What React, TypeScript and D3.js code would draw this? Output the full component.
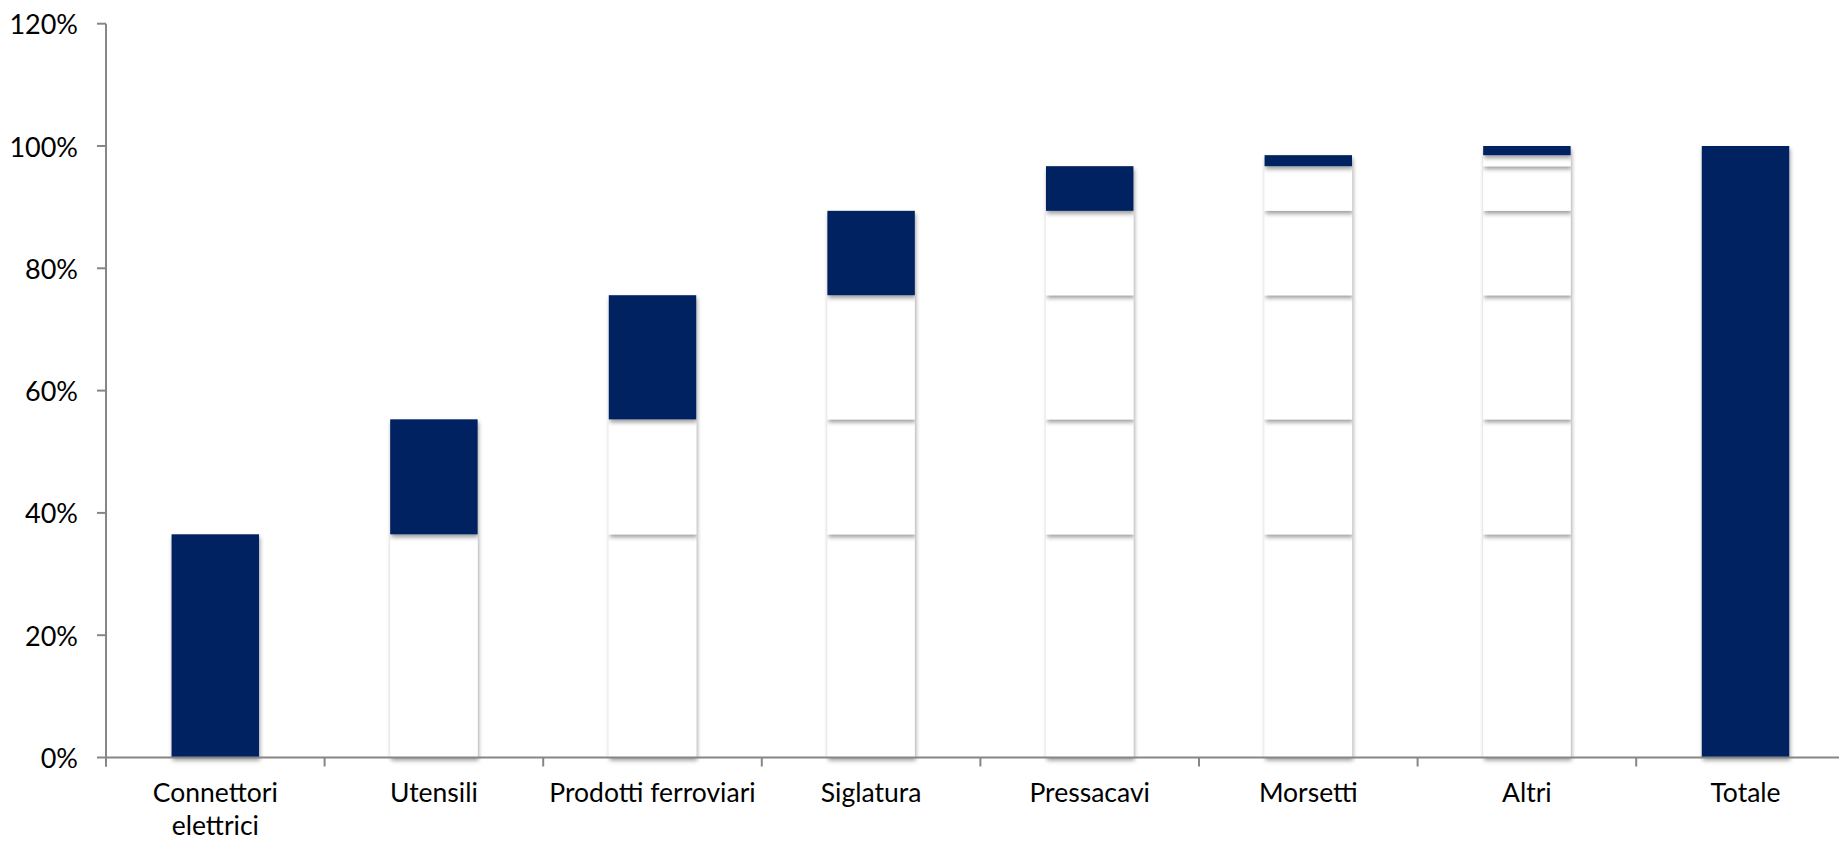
import React from "react";
import * as d3 from "d3";

const categories: string[] = [
  "Connettori\nelettrici",
  "Utensili",
  "Prodotti ferroviari",
  "Siglatura",
  "Pressacavi",
  "Morsetti",
  "Altri",
  "Totale",
];
// contribution of each category (share of total)
const increments: number[] = [0.365, 0.188, 0.203, 0.138, 0.073, 0.018, 0.015];
const totalValue = 1.0;
const yTicks: number[] = [0, 0.2, 0.4, 0.6, 0.8, 1.0, 1.2];

const W = 1839;
const H = 842;
const NAVY = "#002060";
const AXIS = "#868686";
const FONT = "Lato, 'Open Sans', sans-serif";

export default function App() {
  const x = d3
    .scaleBand<string>()
    .domain(categories)
    .range([106, 106 + 8 * 218.6])
    .paddingInner(0.6)
    .paddingOuter(0.3);
  const step = x.step();
  const y = d3.scaleLinear().domain([0, 1.2]).range([757.5, 23.7]);

  const cum: number[] = [0];
  increments.forEach((v, i) => cum.push(cum[i] + v));

  const segs: { key: string; x: number; y0: number; y1: number; fill: string }[] = [];
  increments.forEach((_, k) => {
    categories.forEach((c, j) => {
      if (j >= increments.length) return;
      if (j < k) return;
      segs.push({
        key: `${k}-${j}`,
        x: x(c) as number,
        y0: cum[k],
        y1: cum[k + 1],
        fill: j === k ? NAVY : "#ffffff",
      });
    });
  });
  const lastCat = categories[categories.length - 1];
  segs.push({ key: "total", x: x(lastCat) as number, y0: 0, y1: totalValue, fill: NAVY });

  const x0 = 106;
  const tickXs = categories.map((_, i) => x0 + i * step).concat([x0 + categories.length * step]);

  return (
    <div style={{ position: "fixed", left: 0, top: 0, width: W, height: H, background: "#fff" }}>
      <svg width={W} height={H} style={{ display: "block" }}>
        <defs>
          <filter id="sh" filterUnits="userSpaceOnUse" x={0} y={0} width={W} height={H}>
            <feDropShadow dx={1} dy={3} stdDeviation={2.2} floodColor="#000" floodOpacity={0.38} />
          </filter>
        </defs>
        {/* bars */}
        <g>
          {segs.map((s) => (
            <rect
              key={s.key}
              x={s.x}
              y={y(s.y1)}
              width={x.bandwidth()}
              height={y(s.y0) - y(s.y1)}
              fill={s.fill}
              filter="url(#sh)"
            />
          ))}
        </g>
        {/* y axis */}
        <g stroke={AXIS} strokeWidth={2} fill="none">
          <line x1={x0} x2={x0} y1={y(1.2)} y2={y(0) + 9} />
          {yTicks.map((t) => (
            <line key={t} x1={x0 - 9} x2={x0} y1={y(t)} y2={y(t)} />
          ))}
        </g>
        <g fontFamily={FONT} fontSize={27} fill="#000" textAnchor="end">
          {yTicks.map((t) => (
            <text key={t} x={78} y={y(t)} dominantBaseline="central">
              {d3.format(".0%")(t)}
            </text>
          ))}
        </g>
        {/* x axis */}
        <g stroke={AXIS} strokeWidth={2} fill="none">
          <line x1={x0} x2={x0 + categories.length * step} y1={y(0)} y2={y(0)} />
          {tickXs.map((tx, i) => (
            <line key={i} x1={tx} x2={tx} y1={y(0)} y2={y(0) + 9} />
          ))}
        </g>
        <g fontFamily={FONT} fontSize={26.5} fill="#000" textAnchor="middle">
          {categories.map((c) => {
            const cx = (x(c) as number) + x.bandwidth() / 2;
            return (
              <text key={c} x={cx} y={802}>
                {c.split("\n").map((line, li) => (
                  <tspan key={li} x={cx} dy={li === 0 ? 0 : 33}>
                    {line}
                  </tspan>
                ))}
              </text>
            );
          })}
        </g>
      </svg>
    </div>
  );
}
